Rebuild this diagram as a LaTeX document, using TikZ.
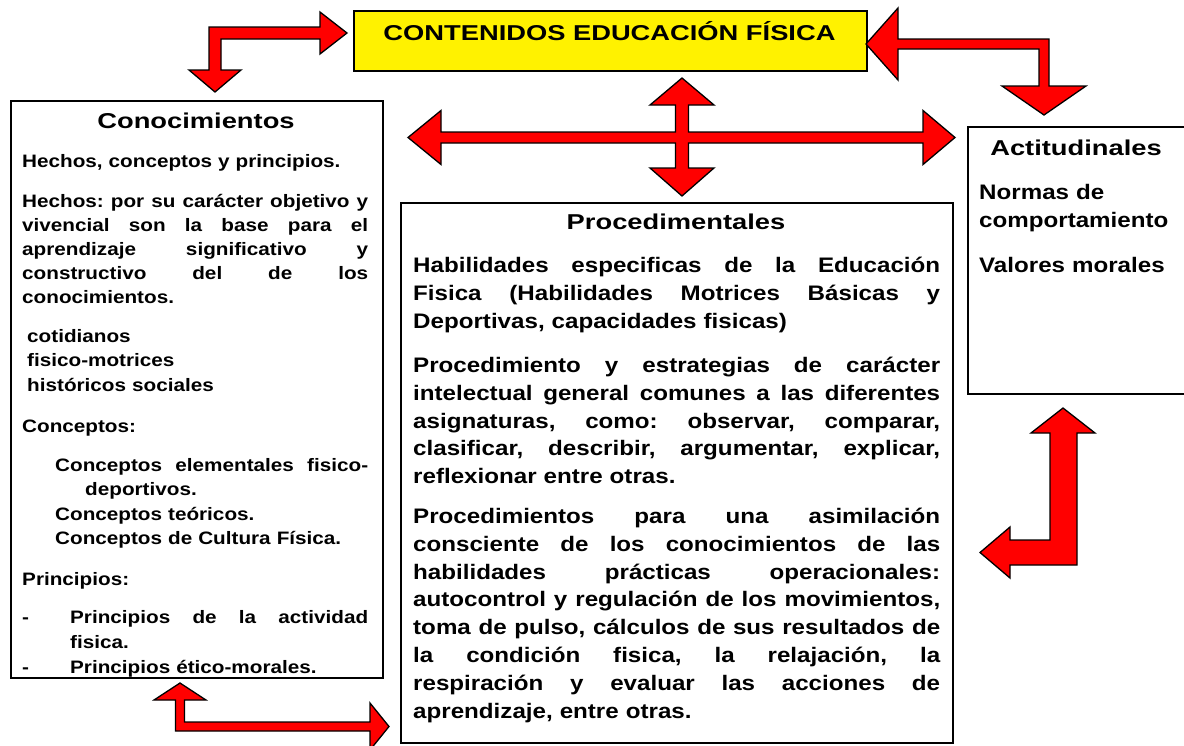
\documentclass[tikz,border=0pt]{standalone}
\usepackage{fontspec}
\setmainfont{Liberation Sans}[FakeStretch=1.15]
\newfontfamily\widefont{Liberation Sans}[FakeStretch=1.27]
\frenchspacing
\newcommand{\jl}[1]{\makebox[\hsize][s]{\spaceskip=\fontdimen2\font plus 1fil\relax #1}}
\newcommand{\jw}[2]{\makebox[#1][s]{\spaceskip=\fontdimen2\font plus 1fil\relax #2}}
\begin{document}
\begin{tikzpicture}[x=1pt,y=-1pt,
  box/.style={draw=black, line width=2pt, anchor=north west, inner sep=0pt},
  blockarrow/.style={fill=red, draw=black, line width=1.3pt, line join=miter},
  headtxt/.style={anchor=base, inner sep=0pt, font=\widefont\bfseries\fontsize{21.5}{26}\selectfont},
  ctxt/.style={anchor=base west, inner sep=0pt, align=left, text width=346pt, font=\bfseries\fontsize{18}{24}\selectfont},
  ptxt/.style={anchor=base west, inner sep=0pt, align=left, text width=527pt, font=\bfseries\fontsize{21}{27.8}\selectfont},
  atxt/.style={anchor=base west, inner sep=0pt, align=left, text width=200pt, font=\bfseries\fontsize{21}{28}\selectfont}
]
\useasboundingbox (0,0) rectangle (1184,745);
\fill[white] (0,0) rectangle (1184,745);
\clip (0,0) rectangle (1184,745);

% boxes
\node[box, fill=yellow, minimum width=513pt, minimum height=60pt] (title) at (353,10) {};
\node[box, minimum width=372pt, minimum height=577pt] (cono) at (10,100) {};
\node[box, minimum width=552pt, minimum height=540pt] (proc) at (400,202) {};
\node[box, minimum width=230pt, minimum height=267pt] (acti) at (967,126) {};

% title
\node[headtxt] (titletxt) at (609.5,40) {CONTENIDOS EDUCACIÓN FÍSICA};

% Conocimientos
\node[headtxt] (ctitle) at (196,128) {Conocimientos};
\node[ctxt] (c1) at (22,167) {Hechos, conceptos y principios.};
\node[ctxt] (c2) at (22,207) {\jl{Hechos: por su carácter objetivo y}\\
\jl{vivencial son la base para el}\\
\jl{aprendizaje significativo y}\\
\jl{constructivo del de los}\\
conocimientos.};
\node[ctxt, text width=300pt, font=\bfseries\fontsize{18}{24.5}\selectfont] (c3) at (27,342) {cotidianos\\ fisico-motrices\\ históricos sociales};
\node[ctxt] (c4) at (22,432) {Conceptos:};
\node[ctxt, text width=313pt, font=\bfseries\fontsize{18}{24.5}\selectfont] (c5) at (55,471) {\jl{Conceptos elementales fisico-}\\
\hspace*{30pt}deportivos.\\
Conceptos teóricos.\\
Conceptos de Cultura Física.};
\node[ctxt] (c6) at (22,585) {Principios:};
\node[ctxt, font=\bfseries\fontsize{18}{25}\selectfont] (c7) at (22,623) {\makebox[48pt][l]{-}\jw{298pt}{Principios de la actividad}\\
\hspace*{48pt}fisica.\\
\makebox[48pt][l]{-}Principios ético-morales.};

% Procedimentales
\node[headtxt] (ptitle) at (676,229) {Procedimentales};
\node[ptxt] (p1) at (413,272.5) {\jl{Habilidades especificas de la Educación}\\
\jl{Fisica (Habilidades Motrices Básicas y}\\
Deportivas, capacidades fisicas)};
\node[ptxt] (p2) at (413,372.5) {\jl{Procedimiento y estrategias de carácter}\\
\jl{intelectual general comunes a las diferentes}\\
\jl{asignaturas, como: observar, comparar,}\\
\jl{clasificar, describir, argumentar, explicar,}\\
reflexionar entre otras.};
\node[ptxt] (p3) at (413,523.5) {\jl{Procedimientos para una asimilación}\\
\jl{consciente de los conocimientos de las}\\
\jl{habilidades prácticas operacionales:}\\
\jl{autocontrol y regulación de los movimientos,}\\
\jl{toma de pulso, cálculos de sus resultados de}\\
\jl{la condición fisica, la relajación, la}\\
\jl{respiración y evaluar las acciones de}\\
aprendizaje, entre otras.};

% Actitudinales
\node[headtxt] (atitle) at (1076,155) {Actitudinales};
\node[atxt] (a1) at (979,199) {Normas de\\ comportamiento};
\node[atxt] (a2) at (979,272) {Valores morales};

% block arrows
% top-left: Conocimientos <-> title
\draw[blockarrow] (347,33) -- (320,54) -- (320,39) -- (221,39) -- (221,70) -- (241,70)
  -- (215,92) -- (189,70) -- (209,70) -- (209,27) -- (320,27) -- (320,12) -- cycle;
% top-right: title <-> Actitudinales
\draw[blockarrow] (866,44) -- (898,8) -- (898,39) -- (1049,39) -- (1049,86) -- (1086,86)
  -- (1044,115) -- (1002,86) -- (1039,86) -- (1039,49) -- (898,49) -- (898,80) -- cycle;
% central cross
\draw[blockarrow] (408,137.5) -- (441,110.5) -- (441,132) -- (675.5,132) -- (675.5,105)
  -- (650,105) -- (682,78) -- (714,105) -- (688.5,105) -- (688.5,132) -- (923,132)
  -- (923,110.5) -- (955,137.5) -- (923,164.5) -- (923,143) -- (688.5,143) -- (688.5,168)
  -- (714,168) -- (682,196) -- (650,168) -- (675.5,168) -- (675.5,143) -- (441,143)
  -- (441,164.5) -- cycle;
% bottom-left: Conocimientos <-> Procedimentales
\draw[blockarrow] (180,683) -- (206,700) -- (184.5,700) -- (184.5,722) -- (370,722)
  -- (370,703) -- (389,726.5) -- (370,750) -- (370,731) -- (175.5,731) -- (175.5,700)
  -- (154,700) -- cycle;
% right: Actitudinales <-> Procedimentales
\draw[blockarrow] (1063,408) -- (1095,433) -- (1077,433) -- (1077,565) -- (1010,565)
  -- (1010,578) -- (980,552.5) -- (1010,527) -- (1010,540) -- (1050,540) -- (1050,433)
  -- (1031,433) -- cycle;
\end{tikzpicture}
\end{document}
